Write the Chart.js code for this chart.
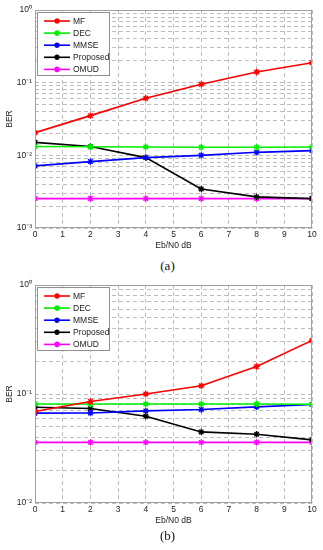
<!DOCTYPE html>
<html><head><meta charset="utf-8">
<script src="https://cdn.jsdelivr.net/npm/chart.js@4/dist/chart.umd.min.js"></script>
<style>
body{margin:0;background:#fff;width:323px;height:550px;position:relative;overflow:hidden}
canvas{position:absolute;left:0}
.cap{position:absolute;width:323px;left:6px;text-align:center;font-family:"Liberation Serif","DejaVu Serif",serif;font-size:13px;line-height:15px;color:#111}
</style></head><body>
<canvas id="ca" width="323" height="255" style="top:0"></canvas>
<div class="cap" style="top:258px">(a)</div>
<canvas id="cb" width="323" height="255" style="top:275px"></canvas>
<div class="cap" style="top:528px">(b)</div>
<script>
const xValues = [0, 2, 4, 6, 8, 10];
const seriesNames = ['MF', 'DEC', 'MMSE', 'Proposed', 'OMUD'];
const seriesColors = ['#ff0000', '#00ee00', '#0000ff', '#000000', '#ff00ff'];
const xTitle = 'Eb/N0 dB';
const yTitle = 'BER';

// chart (a)
const mfA   = [0.0205, 0.0352, 0.061, 0.095, 0.140, 0.188];
const decA  = [0.0132, 0.0131, 0.0130, 0.0129, 0.0129, 0.0130];
const mmseA = [0.00715, 0.0082, 0.0093, 0.0100, 0.0110, 0.0116];
const propA = [0.0151, 0.0132, 0.0093, 0.00345, 0.00268, 0.00254];
const omudA = [0.00254, 0.00254, 0.00254, 0.00254, 0.00254, 0.00254];
const yDecadesA = [-3, -2, -1, 0];

// chart (b)
const mfB   = [0.069, 0.0853, 0.100, 0.119, 0.179, 0.310];
const decB  = [0.081, 0.081, 0.081, 0.081, 0.081, 0.0805];
const mmseB = [0.0667, 0.067, 0.070, 0.072, 0.0762, 0.080];
const propB = [0.0756, 0.0736, 0.0625, 0.0449, 0.0427, 0.0379];
const omudB = [0.036, 0.036, 0.036, 0.036, 0.036, 0.036];
const yDecadesB = [-2, -1, 0];

const supMap = {'-':'\u207B','0':'\u2070','1':'\u00B9','2':'\u00B2','3':'\u00B3','4':'\u2074','5':'\u2075','6':'\u2076','7':'\u2077','8':'\u2078','9':'\u2079'};
function sup(n){ return String(n).split('').map(c => supMap[c]).join(''); }

const FONT = '"Liberation Sans", Arial, sans-serif';

const framePlugin = {
  id: 'frame',
  afterDraw(chart) {
    const {ctx, chartArea: a} = chart;
    ctx.save();
    ctx.strokeStyle = '#a0a0a0';
    ctx.lineWidth = 1;
    ctx.setLineDash([]);
    ctx.strokeRect(a.left + 0.5, a.top + 0.5, a.right - a.left - 1, a.bottom - a.top - 1);
    // legend
    const lx = a.left + 2, ly = a.top + 2, lw = 73, lh = 64;
    ctx.fillStyle = '#fff';
    ctx.fillRect(lx, ly, lw, lh);
    ctx.strokeStyle = '#909090';
    ctx.strokeRect(lx + 0.5, ly + 0.5, lw - 1, lh - 1);
    chart.data.datasets.forEach((ds, i) => {
      const y = ly + 9 + i * 12.1;
      ctx.strokeStyle = ds.borderColor;
      ctx.lineWidth = 1.6;
      ctx.beginPath();
      ctx.moveTo(lx + 7, y);
      ctx.lineTo(lx + 33, y);
      ctx.stroke();
      Chart.helpers.drawPoint(ctx, {pointStyle: 'star', radius: 2.8, borderWidth: 1.3}, lx + 20, y);
      ctx.fillStyle = '#222';
      ctx.font = '8.5px ' + FONT;
      ctx.textBaseline = 'middle';
      ctx.textAlign = 'left';
      ctx.fillText(ds.label, lx + 36, y + 0.5);
    });
    ctx.restore();
  }
};

function makeChart(id, series, decades) {
  const datasets = series.map((vals, i) => ({
    label: seriesNames[i],
    data: vals.map((v, j) => ({x: xValues[j], y: v})),
    borderColor: seriesColors[i],
    backgroundColor: seriesColors[i],
    borderWidth: 1.6,
    pointStyle: 'star',
    pointRadius: 3.2,
    pointBorderWidth: 1.3,
    tension: 0
  }));
  const minExp = decades[0], maxExp = decades[decades.length - 1];
  new Chart(document.getElementById(id), {
    type: 'line',
    data: {datasets},
    plugins: [framePlugin],
    options: {
      responsive: false,
      animation: false,
      devicePixelRatio: 1,
      layout: {padding: {left: 0, top: 10, right: 11, bottom: 0}},
      plugins: {legend: {display: false}, tooltip: {enabled: false}},
      scales: {
        x: {
          type: 'linear', min: 0, max: 10,
          afterFit(s) { s.height = 27; },
          ticks: {stepSize: 1, padding: 2, color: '#222', font: {family: FONT, size: 8.5}, maxRotation: 0},
          grid: {color: '#bdbdbd', lineWidth: 1, drawTicks: false},
          border: {display: false, dash: [4, 3]},
          title: {display: true, text: xTitle, color: '#222', font: {family: FONT, size: 8.5}, padding: {top: 0, bottom: 4}}
        },
        y: {
          type: 'logarithmic',
          min: Math.pow(10, minExp), max: Math.pow(10, maxExp),
          afterFit(s) { s.width = 35; },
          afterBuildTicks(s) {
            const t = [];
            for (let e = minExp; e < maxExp; e++) {
              for (let m = 1; m <= 9; m++) t.push({value: m * Math.pow(10, e)});
            }
            t.push({value: Math.pow(10, maxExp)});
            s.ticks = t;
          },
          ticks: {
            autoSkip: false, padding: 3, color: '#222', font: {family: FONT, size: 8.5},
            callback(v) {
              const l = Math.log10(v);
              const r = Math.round(l);
              return Math.abs(l - r) < 1e-6 ? '10' + sup(r) : '';
            }
          },
          grid: {color: '#bdbdbd', lineWidth: 1, drawTicks: false},
          border: {display: false, dash: [4, 3]},
          title: {display: true, text: yTitle, color: '#222', font: {family: FONT, size: 8.5}, padding: {top: 5, bottom: 0}}
        }
      }
    }
  });
}

makeChart('ca', [mfA, decA, mmseA, propA, omudA], yDecadesA);
makeChart('cb', [mfB, decB, mmseB, propB, omudB], yDecadesB);
</script>
</body></html>
